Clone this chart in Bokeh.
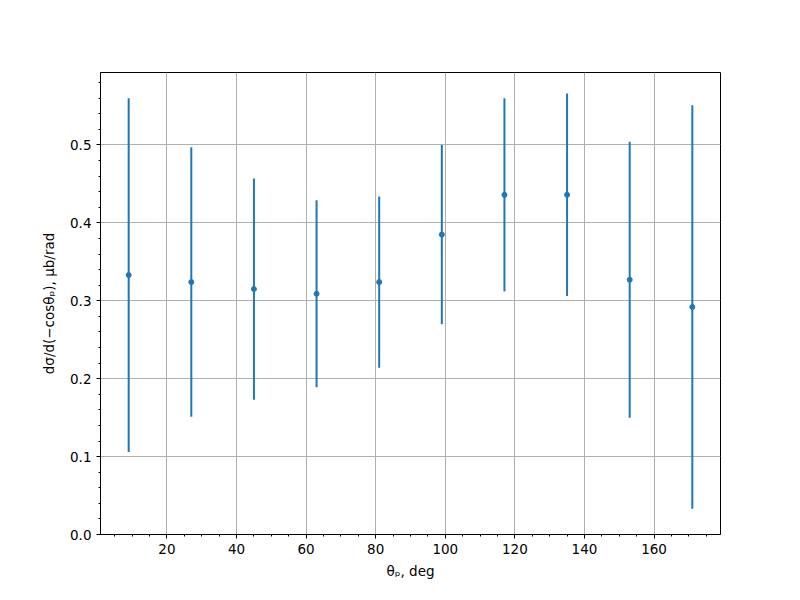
import numpy as np
from bokeh.plotting import figure
from bokeh.models import ColumnDataSource, Range1d, SingleIntervalTicker, NumeralTickFormatter
from bokeh.embed import file_html
from bokeh.resources import INLINE

theta = [9, 27, 45, 63, 81, 99, 117, 135, 153, 171]
xsec = [0.333, 0.324, 0.315, 0.309, 0.324, 0.385, 0.436, 0.436, 0.327, 0.292]
xsec_err = [0.227, 0.173, 0.142, 0.120, 0.110, 0.115, 0.124, 0.130, 0.177, 0.259]

y = np.array(xsec)
e = np.array(xsec_err)
src = ColumnDataSource(dict(x=theta, y=xsec, lo=y - e, hi=y + e))

FONT = "DejaVu Sans"
COLOR = "#1f77b4"

p = figure(width=784, height=584, output_backend="svg", toolbar_location=None,
           x_range=Range1d(0.9, 179.1), y_range=Range1d(0, 0.593),
           min_border_left=100, min_border_right=64, min_border_top=72, min_border_bottom=50)

p.segment(x0="x", y0="lo", x1="x", y1="hi", source=src, line_color=COLOR, line_width=2)
p.scatter(x="x", y="y", source=src, size=5, marker="circle", fill_color=COLOR, line_color=COLOR)

p.outline_line_color = "black"
p.outline_line_width = 1
p.outline_line_alpha = 1

p.xaxis.ticker = SingleIntervalTicker(interval=20, num_minor_ticks=4)
p.yaxis.ticker = SingleIntervalTicker(interval=0.1, num_minor_ticks=5)
p.yaxis.formatter = NumeralTickFormatter(format="0.0")

for ax in (p.xaxis, p.yaxis):
    ax.axis_line_color = "black"
    ax.major_tick_line_color = "black"
    ax.minor_tick_line_color = "black"
    ax.major_tick_in = 0
    ax.major_tick_out = 4
    ax.minor_tick_in = 0
    ax.minor_tick_out = 2
    ax.major_label_text_font = FONT
    ax.major_label_text_font_size = "13.5px"
    ax.major_label_text_color = "black"
    ax.axis_label_text_font = FONT
    ax.axis_label_text_font_size = "13.5px"
    ax.axis_label_text_font_style = "normal"
    ax.axis_label_text_color = "black"

p.xaxis.axis_label = "θₚ, deg"
p.yaxis.axis_label = "dσ/d(−cosθₚ), μb/rad"
p.xaxis.major_label_standoff = 5
p.yaxis.major_label_standoff = 5
p.xaxis.axis_label_standoff = 6
p.yaxis.axis_label_standoff = 10

p.grid.grid_line_color = "#b0b0b0"
p.grid.grid_line_width = 1
p.background_fill_color = "white"
p.border_fill_color = "white"

open("out.html", "w").write(file_html(p, INLINE))
